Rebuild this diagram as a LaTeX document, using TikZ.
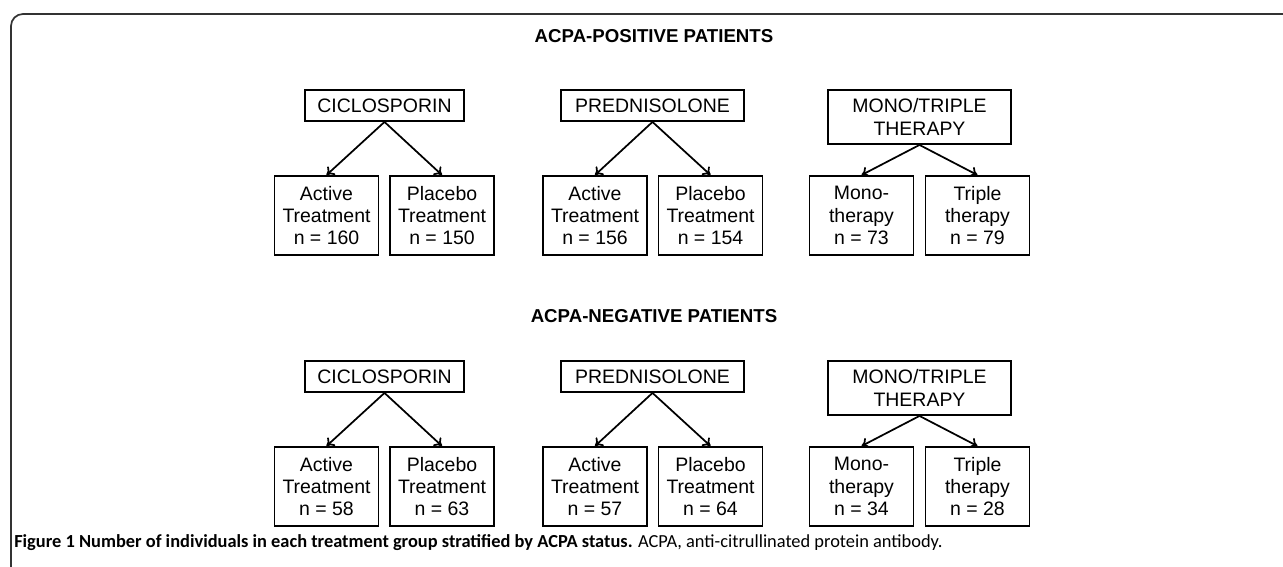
\documentclass[tikz,border=0pt]{standalone}
\usepackage{fontspec}
\setmainfont{Liberation Sans}
\newfontfamily\capfont{Carlito}
\usetikzlibrary{arrows.meta}

\tikzset{
  grp/.style={draw, line width=1.4pt, align=center, inner sep=0pt,
    minimum height=23.25pt, font=\fontsize{14.6}{16.8}\selectfont},
  arm/.style={grp, minimum width=78pt, minimum height=59.25pt},
  link/.style={-{To[length=5.5pt,width=8.5pt]}, line width=1.3pt}
}

\begin{document}
\begin{tikzpicture}[x=0.75pt, y=-0.75pt]
  \useasboundingbox (0,0) rectangle (1283,567);
  % outer frame
  \draw[line width=1.3pt, black!80, rounded corners=9pt] (11,567) |- (1283,14);

  \foreach \r/\dy/\ttl/\ty/\na/\nb/\nc/\nd/\ne/\nf in
    {1/0/POSITIVE/36/160/150/156/154/73/79,
     2/271/NEGATIVE/316/58/63/57/64/34/28} {
    \node[font=\bfseries\fontsize{14}{17}\selectfont] (ttl\r) at (654,\ty) {ACPA-\ttl\ PATIENTS};
    \node[grp, minimum width=119.25pt] (cic\r) at (384.5,105.5+\dy) {CICLOSPORIN};
    \node[grp, minimum width=137.25pt] (pre\r) at (652.5,105.5+\dy) {PREDNISOLONE};
    \node[grp, minimum width=137.25pt, minimum height=40.5pt] (mon\r) at (919.5,117+\dy) {MONO/TRIPLE\\THERAPY};
    \node[arm] (cica\r) at (326.5,215.5+\dy) {Active\\Treatment\\n = \na};
    \node[arm] (cicp\r) at (442,215.5+\dy) {Placebo\\Treatment\\n = \nb};
    \node[arm] (prea\r) at (595,215.5+\dy) {Active\\Treatment\\n = \nc};
    \node[arm] (prep\r) at (710.5,215.5+\dy) {Placebo\\Treatment\\n = \nd};
    \node[arm] (mono\r) at (861.5,215.5+\dy) {Mono-\\therapy\\n = \ne};
    \node[arm] (trip\r) at (977.5,215.5+\dy) {Triple\\therapy\\n = \nf};
    \draw[link] (cic\r.south) -- (cica\r.north);
    \draw[link] (cic\r.south) -- (cicp\r.north);
    \draw[link] (pre\r.south) -- (prea\r.north);
    \draw[link] (pre\r.south) -- (prep\r.north);
    \draw[link] (mon\r.south) -- (mono\r.north);
    \draw[link] (mon\r.south) -- (trip\r.north);
  }

  \node[anchor=base west, inner sep=0pt, font=\capfont\fontsize{13.8}{16}\selectfont] (cap) at (14,547)
    {\textbf{Figure 1 Number of individuals in each treatment group stratified by ACPA status.} ACPA, anti-citrullinated protein antibody.};
\end{tikzpicture}
\end{document}
